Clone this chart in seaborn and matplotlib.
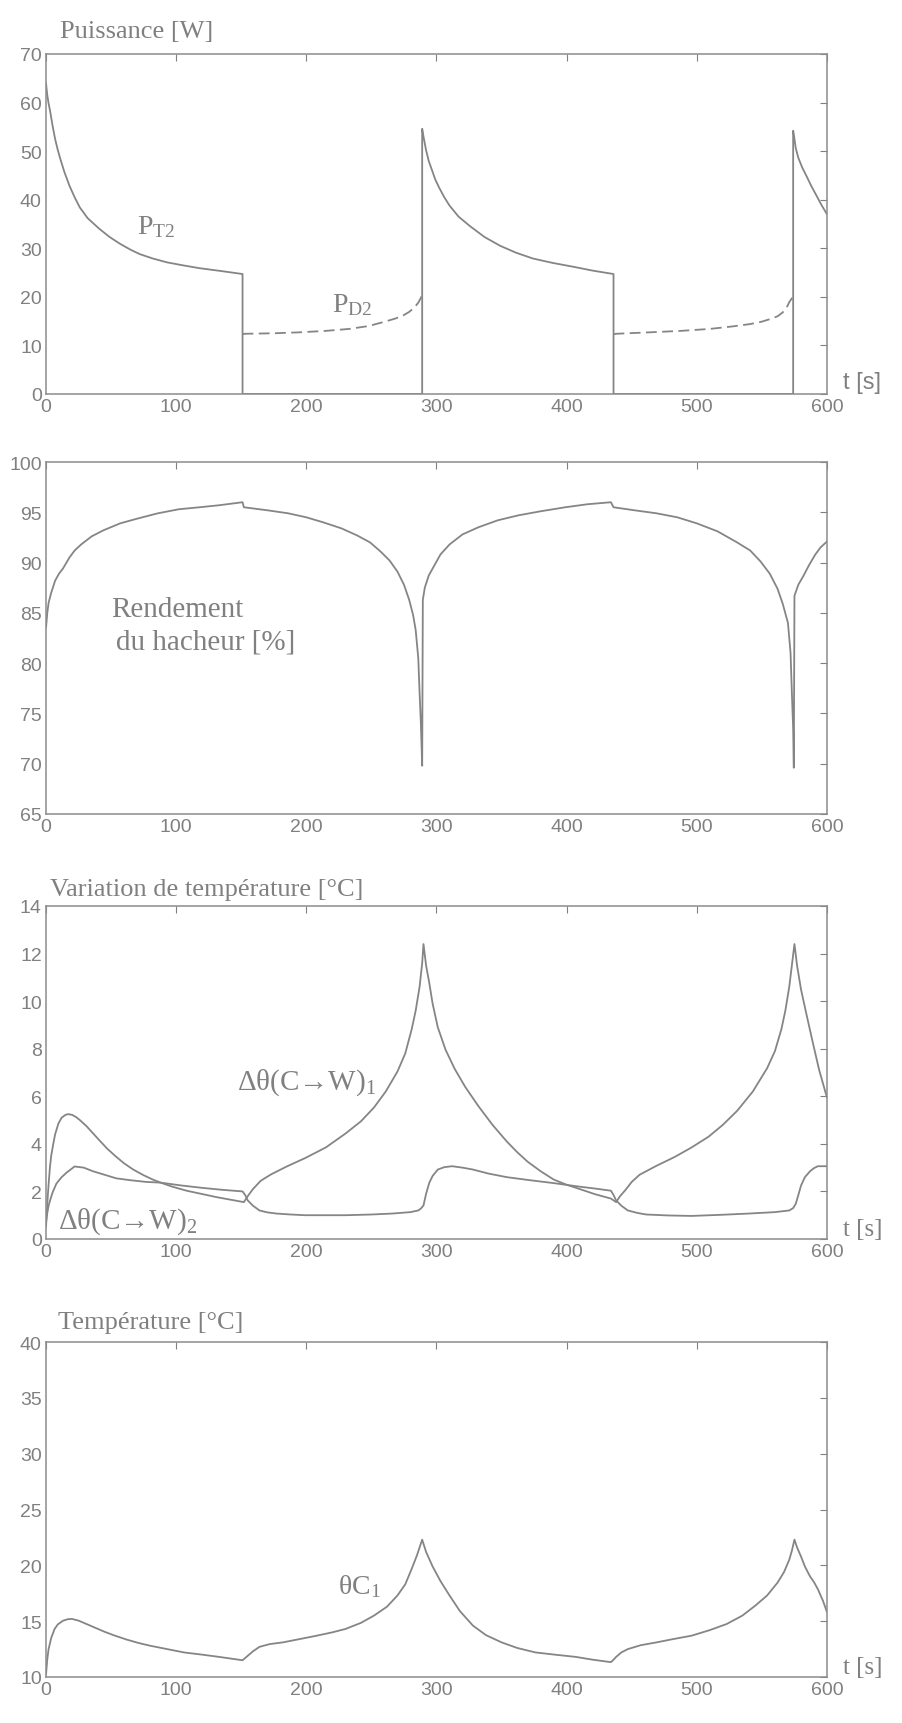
import numpy as np
import pandas as pd
import matplotlib
matplotlib.use('Agg')
import matplotlib.pyplot as plt
import seaborn as sns

# ---- data ----
# Puissance: P_T2 (solid) and P_D2 (dashed)
t_pt2 = [0, 1, 2, 3, 5, 7, 9, 11, 14, 18, 22, 26, 32, 41, 49, 57, 65, 72, 82, 93, 105, 118, 135,
         151, 151, 289, 289, 290, 292, 294, 296, 299, 302, 306, 310, 317, 326, 337, 349, 361, 374,
         389, 405, 420, 436, 436, 574, 574, 575, 576, 578, 581, 584, 588, 592, 596, 600]
p_pt2 = [64, 61.5, 59.8, 58.5, 55.3, 52.5, 50.3, 48.4, 45.8, 42.9, 40.5, 38.4, 36.2, 34, 32.3,
         30.9, 29.7, 28.8, 27.9, 27.1, 26.5, 25.9, 25.3, 24.7, 0, 0, 54.6, 53, 50.2, 48, 46.5,
         44.2, 42.5, 40.5, 38.8, 36.5, 34.5, 32.3, 30.5, 29.1, 27.9, 27, 26.2, 25.4, 24.7, 0, 0,
         54.2, 52.5, 50.6, 48.6, 46.6, 45, 42.8, 40.8, 38.8, 37]
t_pd2_a = [151, 153, 175, 195, 215, 233, 248, 259, 268, 274, 279, 283, 286, 288, 289]
p_pd2_a = [12.3, 12.4, 12.5, 12.7, 13.0, 13.4, 14.0, 14.8, 15.5, 16.1, 16.9, 17.8, 18.8, 19.8, 20.5]
t_pd2_b = [436, 438, 464, 488, 510, 527, 541, 550, 556, 562, 566, 569, 571, 573, 574]
p_pd2_b = [12.3, 12.4, 12.7, 13.0, 13.4, 13.9, 14.4, 14.9, 15.4, 16.0, 16.8, 17.8, 18.9, 19.7, 20.0]

# Rendement du hacheur
t_eta = [0, 1, 2, 4, 7, 10, 13, 18, 22, 27, 35, 44, 57, 71, 86, 102, 118, 133, 151, 152, 170, 186,
         200, 213, 227, 239, 249, 257, 264, 270, 275, 279, 282, 284, 286, 287, 288, 289, 289.5, 291,
         294, 297, 303, 310, 320, 332, 347, 363, 380, 399, 416, 434, 436, 452, 469, 485, 500, 516,
         531, 541, 549, 556, 562, 566, 570, 572, 573, 574, 574.5, 575, 578, 582, 586, 591, 595, 600]
eta = [83.5, 85.0, 86.0, 87.0, 88.2, 88.9, 89.4, 90.5, 91.2, 91.8, 92.6, 93.2, 93.9, 94.4, 94.9,
       95.3, 95.5, 95.7, 96.0, 95.5, 95.2, 94.9, 94.5, 94.0, 93.4, 92.7, 92.0, 91.1, 90.2, 89.1,
       87.8, 86.3, 84.8, 83.3, 80.5, 77.1, 74.0, 69.8, 86.3, 87.5, 88.7, 89.4, 90.8, 91.8, 92.8,
       93.5, 94.2, 94.7, 95.1, 95.5, 95.8, 96.0, 95.5, 95.2, 94.9, 94.5, 93.9, 93.1, 92.0, 91.2,
       90.1, 88.9, 87.4, 85.9, 84.0, 81.0, 77.1, 73.5, 69.6, 86.7, 87.8, 88.7, 89.7, 90.8, 91.5,
       92.1]

# Variation de temperature: delta theta (C->W)1 and (C->W)2
t_d1 = [0, 1, 2, 3, 4, 5.6, 7, 9.5, 12, 15, 17, 20, 23, 26, 31, 36, 41, 47, 53, 60, 67, 75, 82,
        88, 97, 108, 120, 131, 142, 152, 155, 159, 165, 173, 185, 199, 215, 230, 242, 252, 261,
        270, 276, 281, 284, 287, 289, 290, 292, 294.5, 297, 301, 307, 314, 322, 332, 343, 354,
        362, 370, 380, 390, 400, 410, 422, 434, 438, 441, 445, 450, 456, 468, 483, 496, 509, 520,
        531, 543, 554, 560, 565, 568, 571, 573, 575, 577, 580, 584, 589, 594, 600]
d1 = [0.5, 1.5, 2.3, 3.0, 3.5, 4.0, 4.4, 4.85, 5.1, 5.22, 5.25, 5.22, 5.13, 5.0, 4.75, 4.45, 4.15,
      3.8, 3.5, 3.18, 2.92, 2.68, 2.5, 2.37, 2.2, 2.03, 1.89, 1.76, 1.65, 1.55, 1.8, 2.1, 2.45,
      2.72, 3.05, 3.4, 3.85, 4.43, 4.95, 5.53, 6.2, 7.04, 7.8, 8.83, 9.6, 10.6, 11.6, 12.4, 11.5,
      10.75, 9.9, 8.9, 7.95, 7.15, 6.4, 5.6, 4.8, 4.1, 3.65, 3.25, 2.85, 2.5, 2.28, 2.1, 1.88,
      1.7, 1.55, 1.8, 2.05, 2.4, 2.7, 3.05, 3.45, 3.85, 4.3, 4.8, 5.39, 6.2, 7.18, 7.9, 8.83, 9.6,
      10.6, 11.5, 12.4, 11.5, 10.5, 9.5, 8.28, 7.1, 5.94]
t_d2 = [0, 1, 2, 3, 5, 8, 12, 16, 22, 29, 36, 45, 54, 65, 77, 88, 104, 120, 135, 151, 153, 155,
        159, 164, 170, 177, 188, 199, 230, 250, 266, 280, 286, 288, 290, 292, 294.5, 297, 301, 306,
        312, 320, 328, 340, 354, 372, 390, 410, 422, 434, 436, 438, 442, 447, 454, 461, 478, 496,
        520, 540, 560, 571, 574, 576, 578, 580, 583, 587, 590, 593, 600]
d2 = [0.7, 1.1, 1.4, 1.6, 1.95, 2.33, 2.6, 2.8, 3.05, 3.0, 2.85, 2.7, 2.55, 2.47, 2.4, 2.37, 2.25,
      2.15, 2.07, 2.0, 1.85, 1.62, 1.4, 1.2, 1.12, 1.07, 1.03, 1.0, 1.0, 1.03, 1.07, 1.13, 1.2,
      1.28, 1.41, 1.9, 2.37, 2.65, 2.92, 3.02, 3.06, 3.0, 2.92, 2.75, 2.6, 2.47, 2.35, 2.2, 2.12,
      2.03, 1.85, 1.62, 1.4, 1.2, 1.1, 1.03, 0.99, 0.97, 1.02, 1.07, 1.13, 1.2, 1.3, 1.48, 1.85,
      2.24, 2.6, 2.85, 2.98, 3.06, 3.06]

# Temperature theta C1
t_th = [0, 1, 2, 4, 6.6, 9, 13, 17, 20, 25, 31, 38, 45, 53, 62, 71, 80, 93, 106, 120, 133, 142,
        151, 153, 155, 159, 164, 172, 182, 195, 208, 220, 230, 242, 252, 262, 270, 276, 281, 285,
        289, 292, 297, 303, 310, 318, 328, 338, 350, 362, 376, 391, 407, 420, 434, 436, 438, 442,
        447, 457, 469, 482, 496, 510, 523, 535, 545, 554, 562, 567, 571, 573, 575, 577, 580, 583,
        587, 590, 593, 597, 600]
th = [10.2, 11.6, 12.5, 13.5, 14.3, 14.7, 15.04, 15.18, 15.2, 15.05, 14.75, 14.4, 14.05, 13.7,
      13.35, 13.05, 12.8, 12.5, 12.2, 12.0, 11.8, 11.65, 11.5, 11.7, 11.9, 12.3, 12.7, 12.95, 13.1,
      13.4, 13.7, 14.0, 14.3, 14.85, 15.5, 16.3, 17.3, 18.3, 19.7, 20.9, 22.3, 21.2, 19.9, 18.6,
      17.3, 15.9, 14.6, 13.75, 13.1, 12.6, 12.2, 12.0, 11.8, 11.55, 11.33, 11.55, 11.8, 12.2, 12.5,
      12.85, 13.1, 13.4, 13.7, 14.2, 14.75, 15.5, 16.4, 17.3, 18.45, 19.4, 20.5, 21.3, 22.3, 21.6,
      20.8, 19.9, 19.0, 18.5, 17.86, 16.8, 15.8]

x_ticks = [0, 100, 200, 300, 400, 500, 600]

sns.set_theme(style='white')
plt.rcParams['font.family'] = ['Liberation Sans', 'DejaVu Sans']
plt.rcParams['mathtext.fontset'] = 'custom'
plt.rcParams['mathtext.rm'] = 'Liberation Serif'
plt.rcParams['mathtext.it'] = 'Liberation Serif:italic'

GREY = '#808080'
LINE = '#858585'
SERIF = ['Liberation Serif', 'DejaVu Serif']

fig = plt.figure(figsize=(9.03, 17.24), dpi=100)

# axes boxes in pixels (top, bottom) measured on the reference
boxes = [(55, 395), (463, 815), (907, 1240), (1343, 1678)]
left, width = 46 / 903, 781 / 903
axes = []
for top, bot in boxes:
    axes.append(fig.add_axes([left, 1 - bot / 1724, width, (bot - top) / 1724]))


def style(ax, ylim, yticks):
    ax.set_xlim(0, 600)
    ax.set_ylim(*ylim)
    ax.set_xticks(x_ticks)
    ax.set_yticks(yticks)
    ax.tick_params(direction='in', top=True, right=True, length=5, width=0.8,
                   color=GREY, labelcolor=GREY, labelsize=14, pad=3)
    for s in ax.spines.values():
        s.set_color('#8c8c8c')
        s.set_linewidth(1.1)
    ax.set_xlabel('')
    ax.set_ylabel('')


kw = dict(estimator=None, sort=False, color=LINE, linewidth=1.3)

# panel 1 - Puissance
ax = axes[0]
sns.lineplot(x=t_pt2, y=p_pt2, ax=ax, **kw)
sns.lineplot(x=t_pd2_a, y=p_pd2_a, ax=ax, linestyle=(0, (6, 3)), **kw)
sns.lineplot(x=t_pd2_b, y=p_pd2_b, ax=ax, linestyle=(0, (6, 3)), **kw)
style(ax, (0, 70), range(0, 71, 10))
ax.text(0.018, 1.068, 'Puissance [W]', transform=ax.transAxes, va='center',
        family=SERIF, fontsize=19, color=GREY)
ax.text(70, 34.5, r'P$_{\mathrm{T2}}$', family=SERIF, fontsize=20, color=GREY, va='center')
ax.text(220, 18.5, r'P$_{\mathrm{D2}}$', family=SERIF, fontsize=20, color=GREY, va='center')
ax.text(1.02, 0.035, 't [s]', transform=ax.transAxes, va='center', fontsize=17, color=GREY)

# panel 2 - Rendement
ax = axes[1]
sns.lineplot(x=t_eta, y=eta, ax=ax, **kw)
style(ax, (65, 100), range(65, 101, 5))
ax.text(50, 85.4, 'Rendement', family=SERIF, fontsize=21, color=GREY, va='center')
ax.text(54, 82.2, 'du hacheur [%]', family=SERIF, fontsize=21, color=GREY, va='center')

# panel 3 - Variation de temperature
ax = axes[2]
sns.lineplot(x=t_d1, y=d1, ax=ax, **kw)
sns.lineplot(x=t_d2, y=d2, ax=ax, **kw)
style(ax, (0, 14), range(0, 15, 2))
ax.text(0.005, 1.052, 'Variation de température [°C]', transform=ax.transAxes, va='center',
        family=SERIF, fontsize=19, color=GREY)
ax.text(147, 6.6, r'Δθ(C→W)$_{1}$', family=SERIF, fontsize=21, color=GREY, va='center')
ax.text(9, 0.75, r'Δθ(C→W)$_{2}$', family=SERIF, fontsize=21, color=GREY, va='center')
ax.text(1.02, 0.03, 't [s]', transform=ax.transAxes, va='center',
        family=SERIF, fontsize=18, color=GREY)

# panel 4 - Temperature
ax = axes[3]
sns.lineplot(x=t_th, y=th, ax=ax, **kw)
style(ax, (10, 40), range(10, 41, 5))
ax.text(0.015, 1.06, 'Température [°C]', transform=ax.transAxes, va='center',
        family=SERIF, fontsize=19, color=GREY)
ax.text(224, 18.2, r'θC$_{1}$', family=SERIF, fontsize=20, color=GREY, va='center')
ax.text(1.02, 0.03, 't [s]', transform=ax.transAxes, va='center',
        family=SERIF, fontsize=18, color=GREY)

fig.savefig('out.png', dpi=100, facecolor='white')
